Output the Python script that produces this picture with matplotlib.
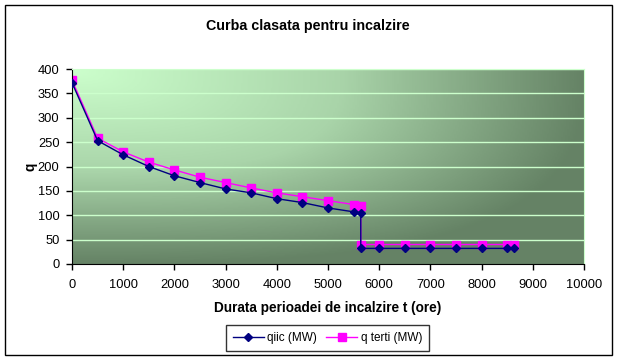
import numpy as np
import matplotlib
matplotlib.use("Agg")
import matplotlib.pyplot as plt
from matplotlib.colors import LinearSegmentedColormap
from matplotlib.patches import Rectangle

plt.rcParams['font.family'] = ['Liberation Sans', 'DejaVu Sans']

t_ore = [0, 500, 1000, 1500, 2000, 2500, 3000, 3500, 4000, 4500, 5000, 5500, 5640,
         5640, 6000, 6500, 7000, 7500, 8000, 8500, 8640]
qiic = [372, 253, 224, 200, 181, 167, 154, 146, 134, 126, 115, 107, 105,
        32, 32, 32, 32, 32, 32, 32, 32]
q_terti = [377, 258, 230, 209, 193, 178, 167, 156, 146, 138, 130, 122, 120,
           40, 40, 40, 40, 40, 40, 40, 40]

W, H = 619, 362
fig = plt.figure(figsize=(W / 100, H / 100), dpi=100)
ax = fig.add_axes([72 / W, 1 - 264 / H, (584 - 72) / W, (264 - 69) / H])

# gradient background (light corner top-left)
u, v = np.meshgrid(np.linspace(0, 1, 300), np.linspace(0, 1, 200))
g = (u ** 3 + v ** 3) ** (1 / 3)
g = np.clip(g, 0, 1)
cmap = LinearSegmentedColormap.from_list('bg', ['#ccffcc', '#a9d4a9', '#5e7a5e'])
ax.imshow(g, cmap=cmap, extent=[0, 10000, 0, 400], aspect='auto', origin='upper',
          zorder=0, vmin=0, vmax=1.05)

for yv in range(50, 401, 50):
    ax.axhline(yv, color='#ccffcc', lw=1, zorder=1)

ax.plot(t_ore, qiic, color='#000080', lw=1, marker='D', ms=4, label='qiic (MW)', zorder=3)
ax.plot(t_ore, q_terti, color='#ff00ff', lw=1, marker='s', ms=5.5, label='q terti (MW)', zorder=2)

ax.set_xlim(0, 10000)
ax.set_ylim(0, 400)
ax.set_xticks(range(0, 10001, 1000))
ax.set_yticks(range(0, 401, 50))
ax.tick_params(direction='out', length=4, width=1, labelsize=9.3, color='black')
ax.tick_params(axis='x', pad=7)
ax.tick_params(axis='y', pad=5)
for s in ['top', 'right']:
    ax.spines[s].set_color('#ccffcc')
for s in ['left', 'bottom']:
    ax.spines[s].set_color('black')

ax.set_xlabel('Durata perioadei de incalzire t (ore)', fontsize=9.8, fontweight='bold', labelpad=7)
ax.set_ylabel('q', fontsize=9.8, fontweight='bold', labelpad=0.5)
fig.text(308 / W, 1 - 26 / H, 'Curba clasata pentru incalzire', ha='center', va='center',
         fontsize=10.3, fontweight='bold')

leg = fig.legend(loc='center', bbox_to_anchor=(327.5 / W, 1 - 338 / H), ncol=2, fontsize=8.5,
                 frameon=True, fancybox=False, edgecolor='black', handlelength=2.6,
                 columnspacing=0.8, handletextpad=0.3, borderpad=0.6)
leg.get_frame().set_linewidth(1)

fig.patches.append(Rectangle((5 / W, 1 - 355 / H), (612 - 5) / W, (355 - 5) / H,
                             transform=fig.transFigure, fill=False, edgecolor='black', lw=1))

fig.savefig('out.png', dpi=100)
